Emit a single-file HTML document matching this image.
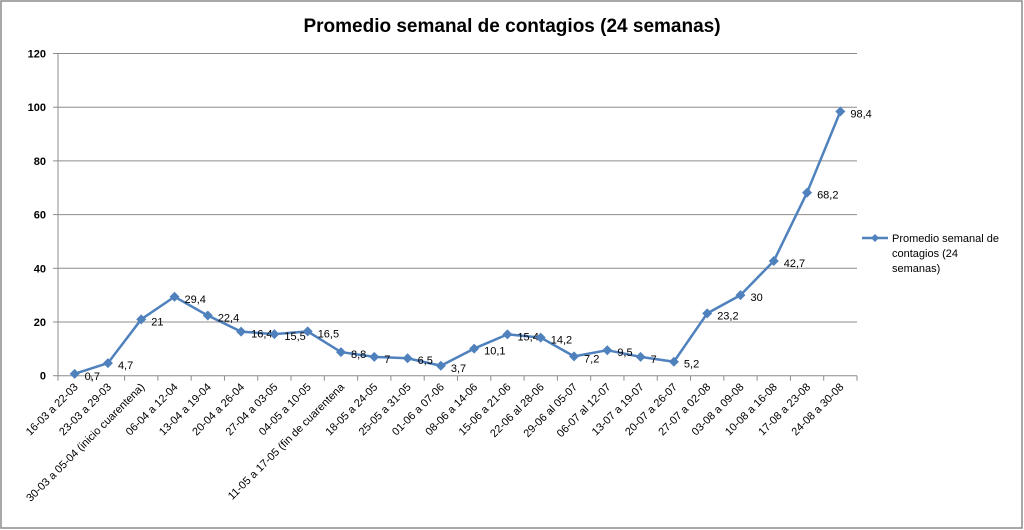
<!DOCTYPE html>
<html><head><meta charset="utf-8"><style>
html,body{margin:0;padding:0;background:#fff;}
svg{display:block;font-family:"Liberation Sans",sans-serif;}
</style></head><body>
<svg id="c" width="1024" height="530" xmlns="http://www.w3.org/2000/svg">
<rect x="1" y="1" width="1021" height="527" fill="#fff" stroke="#8c8c8c" stroke-width="1.5"/>
<text x="512" y="32" text-anchor="middle" font-size="19" font-weight="bold" fill="#000">Promedio semanal de contagios (24 semanas)</text>
<g id="grid"></g><g id="axes"></g><g id="series"></g>
<g>
<line x1="862" y1="238" x2="888" y2="238" stroke="#4f81bd" stroke-width="2.5"/>
<path d="M875 234 L879 238 L875 242 L871 238 Z" fill="#4f81bd"/>
<text x="892" y="242" font-size="11" fill="#000"><tspan x="892" y="242">Promedio semanal de</tspan><tspan x="892" y="257">contagios (24</tspan><tspan x="892" y="272">semanas)</tspan></text>
</g>
</svg>
<script>
const categories=["16-03 a 22-03","23-03 a 29-03","30-03 a 05-04 (inicio cuarentena)","06-04 a 12-04","13-04 a 19-04","20-04 a 26-04","27-04 a 03-05","04-05 a 10-05","11-05 a 17-05 (fin de cuarentena","18-05 a 24-05","25-05 a 31-05","01-06 a 07-06","08-06 a 14-06","15-06 a 21-06","22-06 al 28-06","29-06 al 05-07","06-07 al 12-07","13-07 a 19-07","20-07 a 26-07","27-07 a 02-08","03-08 a 09-08","10-08 a 16-08","17-08 a 23-08","24-08 a 30-08"];
const values=[0.7,4.7,21,29.4,22.4,16.4,15.5,16.5,8.8,7,6.5,3.7,10.1,15.4,14.2,7.2,9.5,7,5.2,23.2,30,42.7,68.2,98.4];
const valueLabels=["0,7","4,7","21","29,4","22,4","16,4","15,5","16,5","8,8","7","6,5","3,7","10,1","15,4","14,2","7,2","9,5","7","5,2","23,2","30","42,7","68,2","98,4"];
const yTicks=[0,20,40,60,80,100,120];
const X0=58,X1=857,Y0=375.7,Y1=53.5,YMAX=120;
const NS="http://www.w3.org/2000/svg";
const step=(X1-X0)/categories.length;
const xs=i=>X0+step*(i+0.5);
const ys=v=>Y0-(Y0-Y1)*v/YMAX;
function mk(t,a,p){const e=document.createElementNS(NS,t);for(const k in a)e.setAttribute(k,a[k]);p.appendChild(e);return e;}
const grid=document.getElementById('grid'),axes=document.getElementById('axes'),ser=document.getElementById('series');
yTicks.forEach(v=>{
 if(v>0){const l=mk('line',{x1:X0,x2:X1,y1:ys(v),y2:ys(v),stroke:'#8c8c8c','stroke-width':1},grid);
 
 }
 const tk=mk('line',{x1:X0-5,x2:X0,y1:ys(v),y2:ys(v),stroke:'#8c8c8c'},axes);
 
 
 const t=mk('text',{x:X0-12,y:ys(v)+4,'text-anchor':'end','font-size':11,'font-weight':'bold',fill:'#000'},axes);
 t.textContent=v;
 
 
});
const ya=mk('line',{x1:X0,x2:X0,y1:Y1,y2:Y0,stroke:'#8c8c8c'},axes);


const xa=mk('line',{x1:X0,x2:X1,y1:Y0,y2:Y0,stroke:'#8c8c8c'},axes);


for(let i=0;i<=categories.length;i++){
 const tk=mk('line',{x1:X0+step*i,x2:X0+step*i,y1:Y0,y2:Y0+5,stroke:'#8c8c8c'},axes);
 
 
}
categories.forEach((c,i)=>{
 const x=xs(i)+4,y=Y0+12;
 const t=mk('text',{x:x,y:y,'text-anchor':'end','font-size':11,fill:'#000',transform:`rotate(-45 ${x} ${y})`},axes);
 t.textContent=c;
 
 
});
const pl=mk('polyline',{points:values.map((v,i)=>xs(i)+','+ys(v)).join(' '),fill:'none',stroke:'#4f81bd','stroke-width':2.5,'stroke-linejoin':'round'},ser);


values.forEach((v,i)=>{
 const x=xs(i),y=ys(v);
 const m=mk('path',{d:`M${x} ${y-5}L${x+5} ${y}L${x} ${y+5}L${x-5} ${y}Z`,fill:'#4f81bd'},ser);
 
 
 const t=mk('text',{x:x+10,y:y+6,'font-size':11,fill:'#000'},ser);
 t.textContent=valueLabels[i];
 
 
});
</script>
</body></html>
